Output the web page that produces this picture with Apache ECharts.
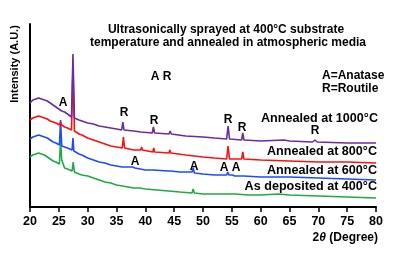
<!DOCTYPE html>
<html>
<head>
<meta charset="utf-8">
<script src="https://cdn.jsdelivr.net/npm/echarts@6/dist/echarts.min.js"></script>
<style>
  html, body { margin: 0; padding: 0; background: #fff; }
  #chart { width: 398px; height: 254px; }
</style>
</head>
<body>
<div id="chart"></div>
<script>
// XRD patterns, 2theta (deg) vs intensity (arbitrary units)
const xTicks = [20, 25, 30, 35, 40, 45, 50, 55, 60, 65, 70, 75, 80];

const as400 = [
  [20, 50], [20.5, 52], [21, 53], [21.5, 54], [22, 53], [22.5, 52], [23, 50], [23.5, 48],
  [24, 46], [24.5, 45], [25.1, 43], [25.3, 67], [25.5, 47], [26, 39], [26.5, 38],
  [27.3, 36], [27.5, 45], [27.7, 35], [28.5, 33], [29, 32], [30, 31], [31, 29], [32, 27],
  [33, 25], [34, 24], [35, 22], [36, 21], [37, 20], [38, 19], [39, 19], [40, 18],
  [42, 17], [44, 16], [46, 15], [48.1, 14], [48.3, 18], [48.5, 14], [50, 13], [52, 13],
  [55.1, 13], [55.3, 15], [55.5, 13], [58, 12], [60, 12], [63, 13], [65, 12], [70, 11],
  [75, 10], [80, 9]
];

const ann600 = [
  [20, 68], [20.5, 70], [21, 71], [21.5, 72], [22, 71], [22.5, 70], [23, 69], [23.5, 67],
  [24, 65], [24.5, 64], [25.1, 62], [25.3, 87], [25.5, 61], [26, 60], [26.5, 59],
  [27.3, 57], [27.45, 69], [27.6, 56], [28.5, 53], [29, 52], [30, 49], [31, 47], [32, 45],
  [33, 44], [34, 42], [35, 41], [36, 40], [36.2, 42], [36.4, 40], [37.8, 40], [38, 42],
  [38.2, 39], [40, 37], [41.3, 37], [41.45, 39], [41.6, 37], [44, 36], [44.2, 38],
  [44.4, 36], [46, 35], [48.1, 35], [48.3, 39], [48.5, 34], [50, 33], [52, 32],
  [54.1, 32], [54.3, 35], [54.5, 32], [55.1, 32], [55.3, 34], [55.5, 31], [56.7, 31],
  [56.9, 33], [57.1, 31], [60, 30], [65, 30], [70, 29], [75, 28], [80, 27]
];

const ann800 = [
  [20, 87], [20.5, 89], [21, 90], [21.5, 91], [22, 90], [22.5, 89], [23, 88], [23.5, 86],
  [24, 85], [24.5, 84], [25.1, 82], [25.3, 85], [25.5, 82], [26, 80], [26.5, 79],
  [27.2, 77], [27.45, 140], [27.7, 76], [28.5, 73], [29, 72], [30, 69], [31, 67], [32, 65],
  [33, 63], [34, 61], [35, 60], [36, 59], [36.2, 70], [36.4, 59], [38, 57], [39.2, 57],
  [39.35, 60], [39.5, 57], [41.3, 55], [41.45, 59], [41.6, 55], [44.1, 54], [44.25, 57],
  [44.4, 54], [47, 52], [50, 50], [52, 49], [54.1, 48], [54.35, 61], [54.6, 48],
  [56.7, 48], [56.9, 55], [57.1, 48], [60, 47], [65, 46], [70, 45], [75, 45], [80, 44]
];

const ann1000 = [
  [20, 104], [20.5, 107], [21, 108], [21.5, 109], [22, 108], [22.5, 107], [23, 106],
  [23.5, 104], [24, 102], [24.5, 100], [25, 98], [25.5, 96], [26, 95], [26.5, 93],
  [27.2, 90], [27.45, 153], [27.7, 89], [28.5, 87], [29, 86], [30, 84], [31, 83], [32, 81],
  [33, 80], [34, 79], [35, 78], [35.9, 77], [36.1, 85], [36.3, 77], [38, 76], [39.2, 75],
  [39.35, 77], [39.5, 75], [41.2, 74], [41.4, 80], [41.6, 74], [44.1, 73], [44.3, 76],
  [44.5, 73], [47, 71], [50, 70], [52, 69], [54.1, 68], [54.35, 81], [54.6, 68],
  [56.7, 67], [56.9, 74], [57.1, 67], [60, 66], [64, 67], [65, 66], [69, 65], [69.4, 67],
  [69.8, 65], [75, 64], [80, 64]
];

const seriesNames = ["As deposited at 400°C", "Annealed at 600°C", "Annealed at 800°C", "Annealed at 1000°C"];
const seriesData = [as400, ann600, ann800, ann1000];
const seriesColors = ["#22a845", "#1f4bff", "#ff1010", "#6a2ca0"];

// annotation texts: [text, x, y, align, size]
const notes = [
  ["Ultrasonically sprayed at 400°C substrate", 226, 30, "center", 12],
  ["temperature and annealed in atmospheric media", 228, 43, "center", 12],
  ["A R", 161, 77, "center", 12],
  ["A=Anatase", 322, 76, "left", 12],
  ["R=Routile", 322, 89, "left", 12],
  ["A", 63, 103, "center", 12],
  ["R", 124, 113, "center", 12],
  ["R", 154, 121, "center", 12],
  ["R", 228, 120, "center", 12],
  ["R", 242, 128, "center", 12],
  ["R", 315, 131, "center", 12],
  ["A", 135, 162, "center", 12],
  ["A", 194, 167, "center", 12],
  ["A", 224, 168, "center", 12],
  ["A", 236, 168, "center", 12],
  ["Annealed at 1000°C", 378, 119, "right", 12.6],
  ["Annealed at 800°C", 377, 152, "right", 12.6],
  ["Annealed at 600°C", 377, 171, "right", 12.6],
  ["As deposited at 400°C", 377, 187, "right", 12.6]
];

const FONT = "'Liberation Sans', Arial, sans-serif";
const chart = echarts.init(document.getElementById("chart"));

const graphics = notes.map((n) => ({
  type: "text",
  x: n[1],
  y: n[2],
  style: {
    text: n[0],
    fill: "#000",
    font: "bold " + n[4] + "px " + FONT,
    align: n[3],
    verticalAlign: "middle",
  },
}));

graphics.push({
  type: "text",
  x: 15,
  y: 64,
  rotation: Math.PI / 2,
  style: {
    text: "Intensity (A.U.)",
    fill: "#000",
    font: "bold 11px " + FONT,
    align: "center",
    verticalAlign: "middle",
  },
});

graphics.push({
  type: "text",
  x: 378,
  y: 238,
  style: {
    text: "{n|2}{t|θ}{n| (Degree)}",
    align: "right",
    verticalAlign: "middle",
    rich: {
      n: { font: "bold 12px " + FONT, fill: "#000" },
      t: { font: "italic bold 12px " + FONT, fill: "#000" },
    },
  },
});

chart.setOption({
  backgroundColor: "#fff",
  animation: false,
  grid: { left: 30, right: 22, top: 24, bottom: 47 },
  xAxis: {
    type: "value",
    min: 20,
    max: 80,
    interval: 5,
    axisLine: { lineStyle: { color: "#000", width: 2 } },
    axisTick: { show: true, length: 5, lineStyle: { color: "#000", width: 1.5 } },
    axisLabel: {
      color: "#000",
      fontFamily: FONT,
      fontWeight: "bold",
      fontSize: 12.5,
      margin: 8,
      customValues: xTicks,
    },
    splitLine: { show: false },
  },
  yAxis: {
    type: "value",
    min: 0,
    max: 183,
    axisLine: { show: true, lineStyle: { color: "#000", width: 2 } },
    axisTick: { show: false },
    axisLabel: { show: false },
    splitLine: { show: false },
  },
  series: seriesData.map((d, i) => ({
    name: seriesNames[i],
    type: "line",
    data: d,
    showSymbol: false,
    smooth: false,
    lineStyle: { color: seriesColors[i], width: 1.6 },
    z: 2 + i,
  })),
  graphic: graphics,
});
</script>
</body>
</html>
